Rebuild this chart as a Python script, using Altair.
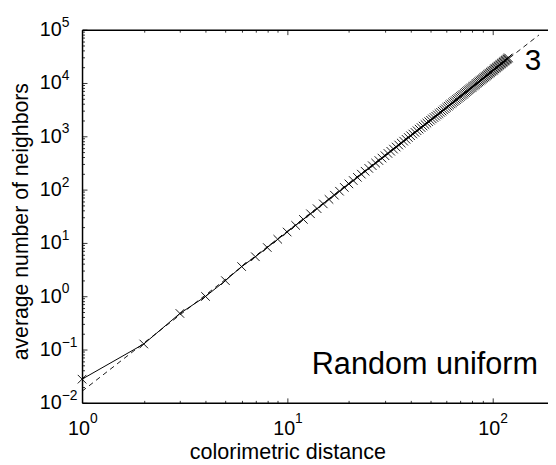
import altair as alt
import pandas as pd

# ---------------- data ----------------
distance = list(range(1, 121))
neighbors = [
    0.0278, 0.127, 0.475, 0.99, 1.96, 3.6, 5.5, 8.2, 11.7, 16.0,
    21.3, 27.6, 35.2, 43.9, 54.0, 65.5, 78.6, 93.3, 110, 128,
    148, 170, 195, 221, 250, 281, 315, 351, 390, 432,
    477, 524, 575, 629, 686, 746, 810, 878, 949, 1024,
    1103, 1185, 1272, 1363, 1458, 1557, 1661, 1769, 1882, 2000,
    2122, 2250, 2382, 2519, 2662, 2810, 2963, 3122, 3286, 3490,
    3670, 3860, 4050, 4250, 4460, 4670, 4890, 5120, 5360, 5600,
    5850, 6100, 6370, 6640, 6920, 7210, 7500, 7810, 8120, 8440,
    8770, 9100, 9450, 9810, 10170, 10540, 10930, 11320, 11720, 12130,
    12550, 12980, 13420, 13870, 14340, 14810, 15290, 15780, 16290, 16800,
    17330, 17860, 18410, 18970, 19540, 20120, 20720, 21320, 21940, 22570,
    23220, 23870, 24540, 25220, 25920, 26620, 27340, 28080, 28820, 29580,
]

# slope-3 reference line (end points)
dash_x = [1, 169]
dash_y = [0.0165, 79600]

# annotations
slope_text = ["3"]
slope_x = [158]
slope_y = [17500]
name_text = ["Random uniform"]
name_x = [167]
name_y = [0.0344]

# axis decades and their exponent labels
x_major = [1, 10, 100]
x_exponents = ["0", "1", "2"]
y_major = [0.01, 0.1, 1, 10, 100, 1000, 10000, 100000]
y_exponents = ["\u22122", "\u22121", "0", "1", "2", "3", "4", "5"]

# ---------------- layout ----------------
W, H = 472, 378
FONT = "Liberation Sans"

df = pd.DataFrame({"distance": distance, "neighbors": neighbors})
dash_df = pd.DataFrame({"distance": dash_x, "neighbors": dash_y})
slope_df = pd.DataFrame({"distance": slope_x, "neighbors": slope_y, "t": slope_text})
name_df = pd.DataFrame({"distance": name_x, "neighbors": name_y, "t": name_text})
xsup_df = pd.DataFrame({"v": x_major, "t": x_exponents})
ysup_df = pd.DataFrame({"v": y_major, "t": y_exponents})

xs = alt.Scale(type="log", domain=[1, 187], nice=False)
ys = alt.Scale(type="log", domain=[0.01, 100000], nice=False)

major_test = "abs(log(datum.value)/LN10 - round(log(datum.value)/LN10)) < 0.000001"
tick_size = {"condition": {"test": major_test, "value": 5}, "value": 2.5}

x_tick_vals = [m * 10 ** k for k in (0, 1) for m in range(1, 10)] + [100]
y_tick_vals = [round(m * 10.0 ** k, 6) for k in range(-2, 5) for m in range(1, 10)] + [100000]

common_tick = dict(ticks=True, tickSize=tick_size, tickColor="black", tickWidth=0.8,
                   labels=False, grid=False, title="")

x_main = alt.Axis(
    orient="bottom", values=x_major, labelExpr="'10'", ticks=False,
    domain=True, domainColor="black", domainWidth=1.5, grid=False,
    labelFont=FONT, labelFontSize=20, labelColor="black", labelPadding=32,
    labelBaseline="alphabetic", labelAlign="center", labelFlush=False,
    labelOffset=-3.5,
    title="colorimetric distance", titleFont=FONT, titleFontSize=21.8,
    titleFontWeight="normal", titleColor="black", titleX=208, titleY=56,
    titleAlign="center", titleBaseline="alphabetic",
)
y_main = alt.Axis(
    orient="left", values=y_major, labelExpr="'10'", ticks=False,
    domain=True, domainColor="black", domainWidth=1.5, grid=False,
    labelFont=FONT, labelFontSize=20, labelColor="black", labelPadding=21,
    labelBaseline="middle", labelAlign="right", labelFlush=False,
    title="average number of neighbors", titleFont=FONT, titleFontSize=21.5,
    titleFontWeight="normal", titleColor="black", titleAngle=270,
    titleX=-55, titleY=194, titleAlign="center", titleBaseline="alphabetic",
)
# inward ticks drawn by axes moved onto the opposite edges
x_top_in = alt.Axis(orient="bottom", offset=-H, values=x_tick_vals, domain=True,
                    domainColor="black", domainWidth=1.5, **common_tick)
x_bot_in = alt.Axis(orient="top", offset=-H, values=x_tick_vals, domain=False, **common_tick)
y_left_in = alt.Axis(orient="right", offset=-W, values=y_tick_vals, domain=False, **common_tick)

dash = alt.Chart(dash_df).mark_line(color="black", strokeWidth=0.9, strokeDash=[5, 4]).encode(
    x=alt.X("distance:Q", scale=xs, axis=x_bot_in),
    y=alt.Y("neighbors:Q", scale=ys, axis=None),
)
line = alt.Chart(df).mark_line(color="black", strokeWidth=1).encode(
    x=alt.X("distance:Q", scale=xs, axis=x_main),
    y=alt.Y("neighbors:Q", scale=ys, axis=y_main),
)
points = alt.Chart(df).mark_point(
    shape="M-1,-1L1,1M-1,1L1,-1", filled=False, color="black",
    strokeWidth=0.9, size=75, opacity=1,
).encode(
    x=alt.X("distance:Q", scale=xs, axis=x_top_in),
    y=alt.Y("neighbors:Q", scale=ys, axis=y_left_in),
)
slope_label = alt.Chart(slope_df).mark_text(
    font=FONT, fontSize=30, align="center", baseline="alphabetic", color="black"
).encode(
    x=alt.X("distance:Q", scale=xs, axis=None),
    y=alt.Y("neighbors:Q", scale=ys, axis=None),
    text="t:N",
)
name_label = alt.Chart(name_df).mark_text(
    font=FONT, fontSize=31, align="right", baseline="alphabetic", color="black"
).encode(
    x=alt.X("distance:Q", scale=xs, axis=None),
    y=alt.Y("neighbors:Q", scale=ys, axis=None),
    text="t:N",
)
# exponent superscripts of the tick labels
x_sup = alt.Chart(xsup_df).mark_text(
    font=FONT, fontSize=14, align="left", baseline="alphabetic", color="black", dx=8
).encode(
    x=alt.X("v:Q", scale=xs, axis=None),
    y=alt.value(H + 20),
    text="t:N",
)
y_sup = alt.Chart(ysup_df).mark_text(
    font=FONT, fontSize=14, align="left", baseline="alphabetic", color="black", dy=-3
).encode(
    x=alt.value(-20.5),
    y=alt.Y("v:Q", scale=ys, axis=None),
    text="t:N",
)

chart = (
    alt.layer(dash, line, points, slope_label, name_label, x_sup, y_sup)
    .resolve_axis(x="independent", y="independent")
    .properties(
        width=W, height=H,
        autosize=alt.AutoSizeParams(type="none"),
        padding={"left": 75, "top": 19, "right": 0, "bottom": 60},
    )
    .configure(background="white")
    .configure_view(stroke=None)
)

chart.save("out.html", embed_options={"renderer": "svg", "actions": False})
